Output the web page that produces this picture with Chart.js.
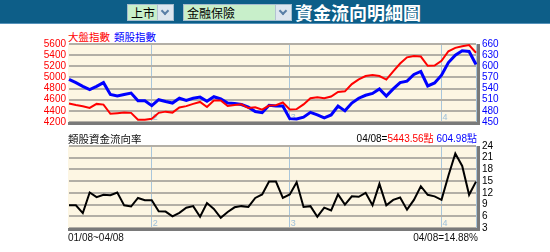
<!DOCTYPE html>
<html>
<head>
<meta charset="utf-8">
<script src="https://cdn.jsdelivr.net/npm/chart.js@4.4.0/dist/chart.umd.min.js"></script>
<style>
  body { margin: 0; width: 550px; height: 252px; background: #fff; position: relative; overflow: hidden;
         font-family: "Liberation Sans", Arial, "Noto Sans CJK TC", sans-serif; }
  #bar { position: absolute; left: 0; top: 0; width: 550px; height: 23px; background: #0d5e88; border-bottom: 1px solid #5592ba; }
  .sel { position: absolute; top: 4px; height: 15px; background: #c8efca; border: 1px solid #a6bccd;
         font-family: "Noto Sans CJK TC", sans-serif; font-size: 12px; line-height: 15px; color: #000; padding-left: 3px; box-sizing: border-box; height: 17px; }
  .sel .arrow { position: absolute; right: 0; top: 0; width: 15px; height: 15px; background: #dde6ef; border-left: 1px solid #b3c3d1; }
  .sel .arrow:after { content: ""; position: absolute; left: 4px; top: 3px; width: 4px; height: 4px;
         border-right: 2px solid #5a7fa6; border-bottom: 2px solid #5a7fa6; transform: rotate(45deg); }
  #title { position: absolute; left: 295px; top: 1px; color: #fff; font-family: "Noto Sans CJK TC", sans-serif;
           font-size: 18px; font-weight: bold; line-height: 22px; }
  .txt { position: absolute; font-size: 10px; line-height: 12px; white-space: nowrap; }
  .cjk { font-family: "Noto Sans CJK TC", sans-serif; font-size: 10.5px; }
  canvas { position: absolute; left: 0; }
</style>
</head>
<body>
<div id="bar">
  <div class="sel" style="left:127px;width:47px;">上市<span class="arrow"></span></div>
  <div class="sel" style="left:183px;width:109px;">金融保險<span class="arrow"></span></div>
  <div id="title">資金流向明細圖</div>
</div>

<span class="txt cjk" style="left:68px;top:31px;color:#ff0000;">大盤指數</span>
<span class="txt cjk" style="left:114px;top:31px;color:#0000ff;">類股指數</span>
<canvas id="top" width="550" height="104" style="top:30px;"></canvas>

<span class="txt cjk" style="left:68px;top:133px;color:#111;">類股資金流向率</span>
<span class="txt" id="lastIdx" style="right:73px;top:133px;"></span>
<canvas id="bottom" width="550" height="118" style="top:132px;"></canvas>
<span class="txt" id="range" style="left:68px;top:232px;color:#111;"></span>
<span class="txt" id="lastFlow" style="right:72px;top:232px;color:#111;"></span>

<script>
// trading days 01/08 - 04/08
const dates = [
  "01/08","01/09","01/10","01/12","01/13","01/14","01/15","01/16","01/17","01/19","01/20","01/21",
  "02/02","02/03","02/04","02/05","02/06","02/09","02/10","02/11","02/12","02/13","02/16","02/17",
  "02/18","02/19","02/20","02/23","02/24","02/25","02/26","02/27",
  "03/02","03/03","03/04","03/05","03/06","03/09","03/10","03/11","03/12","03/13","03/16","03/17",
  "03/18","03/19","03/20","03/23","03/24","03/25","03/26","03/27","03/30","03/31",
  "04/01","04/02","04/03","04/06","04/07","04/08"
];

// 大盤指數 (left axis)
const marketIndex = [
  4532,4504,4482,4453,4525,4512,4347,4358,4369,4364,
  4240,4240,4257,4364,4386,4369,4462,4485,4526,4560,
  4470,4585,4585,4487,4507,4518,4450,4465,4422,4495,
  4500,4550,4425,4431,4515,4628,4644,4628,4656,4740,
  4750,4880,4965,5025,5045,5025,4962,5110,5250,5360,
  5385,5375,5210,5215,5300,5470,5530,5560,5580,5443.56
];

// 類股指數 (right axis)
const sectorIndex = [
  565,556,546,537,546,556,524,520,524,528,
  507,507,494,510,505,501,514,508,514,517,
  506,518,512,501,500,497,490,478,475,495,
  493,493,459,458,463,476,469,461,469,493,
  480,501,514,522,527,539,520,539,556,560,
  578,586,547,555,576,610,630,642,640,604.98
];

// 類股資金流向率 (%)
const flowRate = [
  8.8,8.8,6.8,12.1,10.9,11.5,11.4,12.1,8.8,8.5,
  10.7,10.1,10.1,7.3,7.2,6.0,6.9,8.2,8.6,5.9,
  9.4,7.9,5.6,7.1,8.3,8.6,8.4,10.7,11.6,14.9,
  14.9,10.7,11.6,14.7,8.4,8.6,5.9,8.2,7.5,11.6,
  9.0,11.1,11.0,12.0,8.8,14.3,8.8,10.2,10.8,7.7,
  10.2,13.7,11.5,11.1,10.2,16.4,22.1,18.9,11.5,14.88
];

const marketTicks = [5600,5400,5200,5000,4800,4600,4400,4200];
const sectorTicks = [660,630,600,570,540,510,480,450];
const flowTicks = [24,21,18,15,12,9,6,3];

const last = dates.length - 1;
// first trading day of every month after the first one
const monthStarts = dates.map((d, i) => i).filter(i => i > 0 && dates[i].slice(0, 2) !== dates[i - 1].slice(0, 2));

document.getElementById('lastIdx').innerHTML = dates[last] + '=<span style="color:#ff0000">' +
  marketIndex[last].toFixed(2) + '點</span> <span style="color:#0000ff">' + sectorIndex[last].toFixed(2) + '點</span>';
document.getElementById('range').textContent = dates[0] + '~' + dates[last];
document.getElementById('lastFlow').textContent = dates[last] + '=' + flowRate[last].toFixed(2) + '%';

const GRID = '#b3afa6';
const tickFont = { family: '"Liberation Sans", Arial, sans-serif', size: 10 };

const plotFrame = {
  id: 'plotFrame',
  beforeDraw(chart) {
    const { ctx, chartArea: a } = chart;
    ctx.save();
    ctx.fillStyle = '#fdf6e3';
    ctx.fillRect(a.left - 1, a.top, a.width + 1, a.height);
    ctx.restore();
  },
  beforeDatasetsDraw(chart) {
    const { ctx, chartArea: a, scales } = chart;
    ctx.save();
    ctx.fillStyle = '#9fc0d9';
    ctx.font = '9px "Liberation Sans", Arial, sans-serif';
    ctx.textBaseline = 'bottom';
    monthStarts.forEach(i => {
      ctx.fillText(String(parseInt(dates[i].slice(0, 2), 10)), scales.x.getPixelForValue(i) + 1, a.bottom);
    });
    ctx.restore();
  },
  afterDatasetsDraw(chart) {
    const { ctx, chartArea: a } = chart;
    ctx.save();
    ctx.strokeStyle = '#7a7a7a';
    ctx.lineWidth = 3;
    ctx.beginPath();
    ctx.moveTo(a.left - 1, a.bottom + 1.5);
    ctx.lineTo(a.right + 2.5, a.bottom + 1.5);
    ctx.lineTo(a.right + 2.5, a.top);
    ctx.stroke();
    ctx.restore();
  }
};

function xAxis() {
  return {
    type: 'category',
    offset: false,
    ticks: { display: false, autoSkip: false },
    border: { display: false },
    grid: {
      drawTicks: false,
      lineWidth: 1,
      color: c => (monthStarts.includes(c.index) || c.index === last) ? '#a9c6db' : 'rgba(0,0,0,0)'
    },
    afterFit: a => { a.height = 0; }
  };
}

function yAxis(position, ticks, color, width, drawGrid) {
  return {
    position: position,
    min: ticks[ticks.length - 1],
    max: ticks[0],
    afterBuildTicks: a => { a.ticks = ticks.map(v => ({ value: v })); },
    afterFit: a => { a.width = width; },
    border: { display: false },
    grid: { display: drawGrid, drawTicks: false, color: GRID, lineWidth: 2 },
    ticks: {
      color: color, font: tickFont, padding: position === 'left' ? 3 : 6,
      autoSkip: false, callback: v => String(v)
    }
  };
}

const common = {
  responsive: false,
  devicePixelRatio: 1,
  animation: false,
  events: [],
  plugins: { legend: { display: false }, tooltip: { enabled: false } },
  elements: { point: { radius: 0 }, line: { tension: 0 } }
};

new Chart(document.getElementById('top'), {
  type: 'line',
  data: {
    labels: dates,
    datasets: [
      { data: marketIndex, borderColor: '#ff0000', borderWidth: 2, yAxisID: 'y' },
      { data: sectorIndex, borderColor: '#0000ff', borderWidth: 3, yAxisID: 'y2' }
    ]
  },
  options: Object.assign({}, common, {
    layout: { padding: { top: 14, bottom: 7, left: 0, right: 0 } },
    scales: {
      x: xAxis(),
      y: yAxis('left', marketTicks, '#ff0000', 69, true),
      y2: yAxis('right', sectorTicks, '#0000ff', 74, false)
    }
  }),
  plugins: [plotFrame]
});

new Chart(document.getElementById('bottom'), {
  type: 'line',
  data: {
    labels: dates,
    datasets: [
      { data: flowRate, borderColor: '#000000', borderWidth: 2, yAxisID: 'y' }
    ]
  },
  options: Object.assign({}, common, {
    layout: { padding: { top: 14, bottom: 22, left: 69, right: 0 } },
    scales: {
      x: xAxis(),
      y: yAxis('right', flowTicks, '#000000', 74, true)
    }
  }),
  plugins: [plotFrame]
});
</script>
</body>
</html>
